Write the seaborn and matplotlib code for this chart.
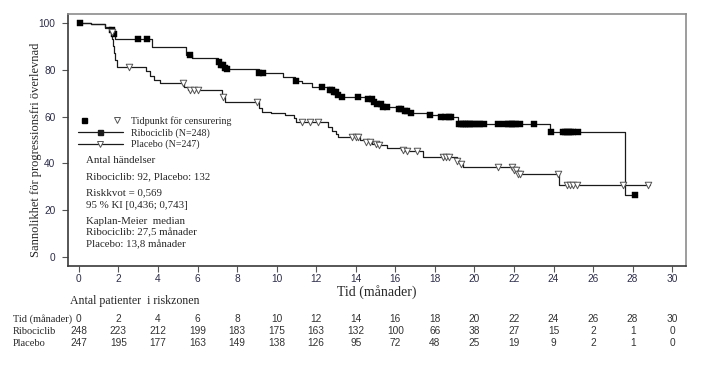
import numpy as np
import pandas as pd
import seaborn as sns
import matplotlib.pyplot as plt
from matplotlib.lines import Line2D
from matplotlib.legend_handler import HandlerTuple
import matplotlib.transforms as mtransforms

# Kaplan-Meier steps (time in months, survival in %)
ribo_time = [0, 0.6, 1.3, 1.6, 1.75, 1.85, 3.7, 5.4, 5.7, 7.05, 7.2, 7.35, 7.5, 9.1, 10.3,
             10.95, 11.3, 11.8, 12.65, 12.85, 13.05, 13.2, 14.6, 14.85, 15.1, 15.35, 16.15,
             16.45, 16.75, 17.6, 18.2, 19.15, 23.8, 27.6, 28.2]
ribo_surv = [100, 99.4, 98.4, 96.8, 95.2, 93.2, 89.9, 86.3, 84.9, 83.5, 82.0, 80.9, 80.2, 78.5,
             76.8, 75.4, 74.2, 72.8, 71.5, 70.3, 69.3, 68.5, 67.3, 66.2, 65.2, 64.2, 63.2,
             62.2, 61.4, 60.7, 59.7, 56.8, 53.3, 26.5, 26.5]
plac_time = [0, 0.6, 1.3, 1.6, 1.7, 1.75, 1.8, 1.85, 1.95, 3.4, 3.6, 3.8, 4.1, 5.3, 5.5, 7.25,
             7.4, 9.1, 9.25, 9.7, 10.4, 10.9, 11.0, 12.6, 12.8, 13.0, 13.1, 14.2, 14.5, 14.8,
             15.1, 15.6, 16.3, 16.5, 17.4, 19.1, 19.25, 19.4, 22.0, 22.2, 24.3, 28.9]
plac_surv = [100, 99.4, 98.0, 96.0, 93.2, 90.0, 87.0, 84.0, 81.0, 79.5, 77.5, 75.5, 74.2, 72.8,
             71.4, 68.5, 66.4, 63.5, 62.1, 61.4, 60.7, 59.3, 57.8, 55.5, 54.0, 52.5, 51.4, 50.2,
             49.2, 48.4, 47.9, 46.4, 45.9, 45.3, 42.9, 41.0, 39.8, 38.6, 37.0, 35.5, 30.8, 30.8]

# censoring times
ribo_cens = [0.05, 1.7, 1.8, 3.0, 3.45, 5.6, 7.1, 7.2, 7.3, 7.4, 7.5, 9.1, 9.3, 11.0, 12.3,
             12.7, 12.8, 12.9, 13.0, 13.1, 13.3, 14.1, 14.6, 14.8, 14.9, 15.1, 15.3, 15.4, 15.6,
             16.2, 16.3, 16.5, 16.6, 16.8, 17.75, 18.3, 18.5, 18.7, 18.8, 19.2, 19.3, 19.4, 19.5,
             19.6, 19.7, 19.8, 19.9, 20.0, 20.2, 20.3, 20.5, 21.2, 21.5, 21.7, 21.8, 21.9, 22.0,
             22.1, 22.3, 23.0, 23.85, 24.5, 24.6, 24.7, 24.8, 24.9, 25.0, 25.25, 28.1]
plac_cens = [1.65, 2.55, 5.25, 5.6, 5.8, 6.0, 7.3, 9.0, 11.3, 11.7, 12.1, 13.8, 14.0, 14.1,
             14.5, 14.7, 15.0, 15.2, 16.4, 16.6, 17.1, 18.4, 18.55, 18.7, 19.1, 19.3, 21.2,
             21.9, 22.0, 22.1, 22.2, 22.3, 24.25, 24.7, 24.85, 25.0, 25.2, 27.5, 28.8]

# risk table
risk_times = [0, 2, 4, 6, 8, 10, 12, 14, 16, 18, 20, 22, 24, 26, 28, 30]
ribo_risk = [248, 223, 212, 199, 183, 175, 163, 132, 100, 66, 38, 27, 15, 2, 1, 0]
plac_risk = [247, 195, 177, 163, 149, 138, 126, 95, 72, 48, 25, 19, 9, 2, 1, 0]


def step_value(times, surv, t):
    idx = np.searchsorted(times, t, side="right") - 1
    return np.asarray(surv)[idx]


SERIF = "Liberation Serif"
SANS = "Liberation Sans"
TICKC = "#2d2d4a"

sns.set_style("white")
plt.rcParams["font.family"] = [SANS, "DejaVu Sans"]

curves = pd.concat([
    pd.DataFrame({"arm": "Ribociclib", "time": ribo_time, "surv": ribo_surv}),
    pd.DataFrame({"arm": "Placebo", "time": plac_time, "surv": plac_surv}),
])
cens = pd.concat([
    pd.DataFrame({"arm": "Ribociclib", "time": ribo_cens,
                  "surv": step_value(ribo_time, ribo_surv, ribo_cens)}),
    pd.DataFrame({"arm": "Placebo", "time": plac_cens,
                  "surv": step_value(plac_time, plac_surv, plac_cens)}),
])

fig = plt.figure(figsize=(7.1, 3.66), dpi=100)
ax = fig.add_axes([68 / 710, 1 - 266 / 366, 618 / 710, 252 / 366])

sns.lineplot(data=curves, x="time", y="surv", hue="arm", estimator=None, sort=False,
             palette={"Ribociclib": "#1a1a1a", "Placebo": "#1a1a1a"},
             drawstyle="steps-post", lw=0.9, legend=False, ax=ax)
sns.scatterplot(data=cens[cens.arm == "Ribociclib"], x="time", y="surv", marker="s",
                s=14, color="black", edgecolor="black", linewidth=0.3, legend=False, ax=ax, zorder=3)
sns.scatterplot(data=cens[cens.arm == "Placebo"], x="time", y="surv", marker="v",
                s=22, facecolor="white", edgecolor="#555555", linewidth=0.7, legend=False,
                ax=ax, zorder=3)

ax.set_xlim(-0.55, 30.7)
ax.set_ylim(-3.8, 103.8)
ax.set_xticks(risk_times)
ax.set_yticks([0, 20, 40, 60, 80, 100])
for side, s in ax.spines.items():
    s.set_color("#3a3a3a" if side in ("left", "bottom") else "#8c8c8c")
    s.set_linewidth(1.2)
ax.tick_params(axis="both", which="major", direction="out", length=4, width=0.8,
               color="#555555", labelsize=7.3, labelcolor=TICKC, bottom=True, left=True)
ax.tick_params(axis="x", pad=2)
ax.tick_params(axis="y", pad=5)

ax.set_xlabel("Tid (månader)", fontfamily=SERIF, fontsize=10)
ax.xaxis.set_label_coords(0.5, -0.075)
ax.set_ylabel("Sannolikhet för progressionsfri överlevnad", fontfamily=SERIF, fontsize=9)
ax.yaxis.set_label_coords(-0.042, 0.46)

# legend
sq = Line2D([], [], ls="none", marker="s", ms=3.6, color="black")
tri = Line2D([], [], ls="none", marker="v", ms=4.5, mfc="white", mec="#555555", mew=0.7)
gap = Line2D([], [], ls="none", marker=None)
h_ribo = Line2D([], [], color="#1a1a1a", lw=0.9, marker="s", ms=3.6)
h_plac = Line2D([], [], color="#1a1a1a", lw=0.9, marker="v", ms=4.5, mfc="white",
                mec="#555555", mew=0.7)
ax.legend([(sq, gap, gap, tri), h_ribo, h_plac],
          ["Tidpunkt för censurering", "Ribociclib (N=248)", "Placebo (N=247)"],
          handler_map={tuple: HandlerTuple(ndivide=None, pad=0)},
          loc="upper left", bbox_to_anchor=(0.016, 0.595), frameon=False,
          prop={"family": SERIF, "size": 7.2}, handlelength=4.5, handletextpad=0.8,
          labelspacing=0.22, borderpad=0, borderaxespad=0)

notes = [("Antal händelser", 161), ("Ribociclib: 92, Placebo: 132", 177),
         ("Riskkvot = 0,569", 193), ("95 % KI [0,436; 0,743]", 206),
         ("Kaplan-Meier  median", 221), ("Ribociclib: 27,5 månader", 233),
         ("Placebo: 13,8 månader", 245)]
for txt, ypx in notes:
    fig.text(86 / 710, 1 - ypx / 366, txt, fontfamily=SERIF, fontsize=7.8, va="center")

# number at risk table
fig.text(70 / 710, 1 - 301 / 366, "Antal patienter  i riskzonen", fontfamily=SERIF,
         fontsize=8.6, va="center")
trans = mtransforms.blended_transform_factory(ax.transData, fig.transFigure)
rows = [("Tid (månader)", risk_times, 319), ("Ribociclib", ribo_risk, 331),
        ("Placebo", plac_risk, 343)]
for name, vals, ypx in rows:
    fig.text(13 / 710, 1 - ypx / 366, name, fontfamily=SERIF, fontsize=7.5, va="center")
    for t, v in zip(risk_times, vals):
        ax.text(t, 1 - ypx / 366, str(v), transform=trans, ha="center", va="center",
                fontsize=7.3, color="#333333")

fig.savefig("out.png", dpi=100)
